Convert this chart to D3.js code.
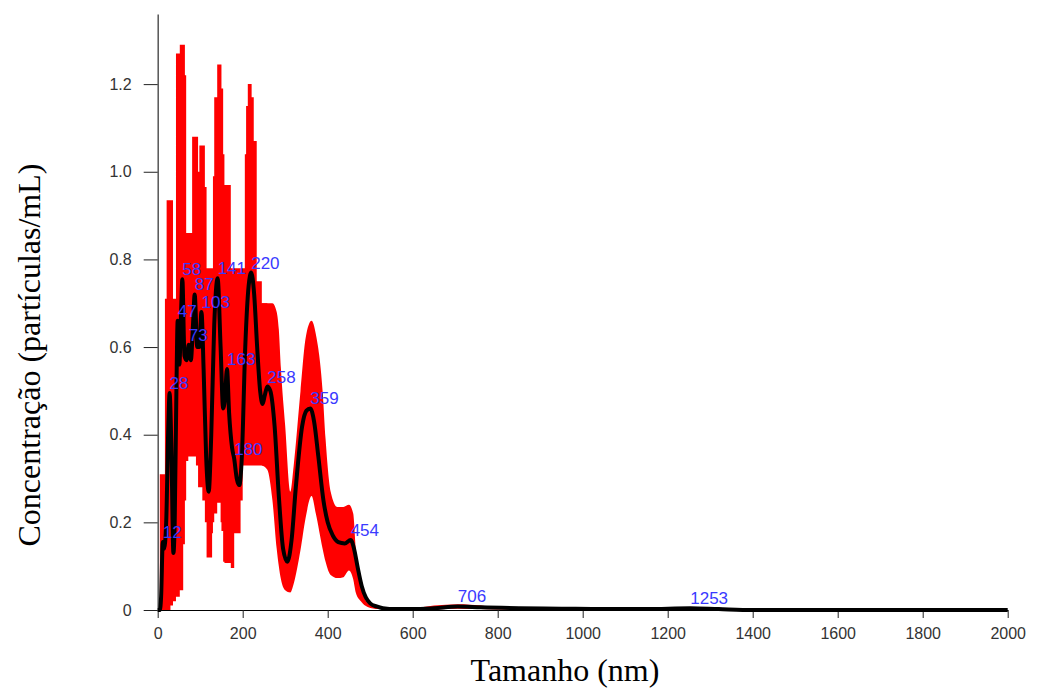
<!DOCTYPE html>
<html>
<head>
<meta charset="utf-8">
<script src="https://cdn.jsdelivr.net/npm/d3@7"></script>
<style>
  body { margin: 0; background: #fff; }
  svg { display: block; }
</style>
</head>
<body>
<div id="chart"></div>
<script>
// mean size distribution (nm -> particles/mL)
var meanSize = [0, 5, 8, 12, 15, 20, 25, 28, 32, 37, 40, 44, 47, 51, 55, 58, 63, 68, 73, 78, 83, 87, 93, 98, 103, 108, 114, 120, 126, 133, 141, 148, 154, 158, 163, 168, 175, 180, 186, 192, 198, 206, 214, 220, 227, 234, 241, 247, 252, 258, 265, 275, 285, 295, 305, 315, 325, 340, 350, 359, 368, 378, 390, 400, 412, 425, 440, 454, 462, 470, 480, 490, 500, 515, 530, 560, 600, 650, 706, 760, 850, 950, 1050, 1150, 1253, 1320, 1400, 2000];
var meanConc = [0, 0, 0.03, 0.155, 0.14, 0.2, 0.42, 0.495, 0.38, 0.13, 0.2, 0.5, 0.66, 0.56, 0.68, 0.755, 0.58, 0.57, 0.605, 0.57, 0.65, 0.72, 0.6, 0.6, 0.68, 0.55, 0.35, 0.27, 0.4, 0.65, 0.757, 0.6, 0.46, 0.48, 0.55, 0.45, 0.37, 0.345, 0.3, 0.285, 0.35, 0.6, 0.74, 0.77, 0.72, 0.6, 0.5, 0.47, 0.49, 0.51, 0.5, 0.42, 0.26, 0.14, 0.11, 0.16, 0.28, 0.42, 0.455, 0.46, 0.43, 0.35, 0.25, 0.2, 0.17, 0.155, 0.152, 0.16, 0.14, 0.1, 0.055, 0.028, 0.015, 0.008, 0.004, 0.002, 0.002, 0.004, 0.008, 0.006, 0.004, 0.003, 0.002, 0.002, 0.004, 0.002, 0, 0];

// error band (mean +/- error)
var bandSize = [0, 5, 17, 21, 30, 36, 43, 52, 60, 64, 67, 72, 81, 90, 95, 98, 105, 111, 115, 122, 128, 130, 133, 140, 148, 150, 154, 157, 172, 180, 195, 200, 205, 208, 212, 221, 226, 233, 245, 258, 270, 280, 285, 290, 300, 312, 320, 336, 348, 362, 372, 388, 395, 407, 423, 437, 450, 460, 466, 478, 494, 520, 600, 650, 706, 760, 800, 900, 1000];
var bandHigh = [0, 0.31, 0.71, 0.935, 0.935, 0.71, 1.27, 1.29, 1.29, 1.22, 0.86, 0.86, 1.08, 1.08, 1.0, 1.06, 1.06, 0.965, 0.78, 0.78, 0.78, 0.99, 1.17, 1.245, 1.245, 1.19, 1.04, 0.97, 0.78, 0.78, 0.78, 0.78, 1.04, 1.15, 1.2, 1.17, 1.07, 0.75, 0.7, 0.7, 0.7, 0.68, 0.64, 0.55, 0.42, 0.27, 0.33, 0.5, 0.62, 0.66, 0.63, 0.5, 0.39, 0.27, 0.235, 0.235, 0.24, 0.22, 0.14, 0.06, 0.016, 0.006, 0.004, 0.01, 0.013, 0.01, 0.006, 0.004, 0.003];
var bandLow = [0, 0, 0, 0, 0.01, 0.02, 0.03, 0.045, 0.15, 0.25, 0.34, 0.35, 0.35, 0.33, 0.28, 0.28, 0.25, 0.2, 0.12, 0.12, 0.175, 0.2, 0.22, 0.245, 0.2, 0.18, 0.11, 0.107, 0.096, 0.175, 0.25, 0.33, 0.33, 0.33, 0.33, 0.33, 0.33, 0.33, 0.33, 0.32, 0.25, 0.14, 0.1, 0.07, 0.045, 0.04, 0.06, 0.137, 0.21, 0.26, 0.22, 0.14, 0.11, 0.08, 0.073, 0.075, 0.09, 0.07, 0.04, 0.02, 0.007, 0.002, 0, 0.001, 0.003, 0.002, 0.001, 0.001, 0.001];

var peakLabels = [12, 28, 47, 58, 73, 87, 103, 141, 163, 180, 220, 258, 359, 454, 706, 1253];
var xTicks = [0, 200, 400, 600, 800, 1000, 1200, 1400, 1600, 1800, 2000];
var yTicks = [0, 0.2, 0.4, 0.6, 0.8, 1.0, 1.2];

var W = 1038, H = 689;
var svg = d3.select("#chart").append("svg")
    .attr("width", W)
    .attr("height", H);

var x = d3.scaleLinear().domain([0, 2000]).range([157.7, 1007.7]);
var y = d3.scaleLinear().domain([0, 1.36]).range([610, 14]);

var band = bandSize.map(function(s, i) { return {s: s, hi: bandHigh[i], lo: bandLow[i]}; });
var mean = meanSize.map(function(s, i) { return {s: s, v: meanConc[i]}; });

// spiky part drawn as steps, smooth tail as a curve
var stepArea = d3.area()
    .x(function(d) { return x(d.s); })
    .y0(function(d) { return y(d.lo); })
    .y1(function(d) { return y(d.hi); })
    .curve(d3.curveStepAfter);
var smoothArea = d3.area()
    .x(function(d) { return x(d.s); })
    .y0(function(d) { return y(d.lo); })
    .y1(function(d) { return y(d.hi); })
    .curve(d3.curveMonotoneX);

svg.append("path")
    .datum(band.filter(function(d) { return d.s <= 258; }))
    .attr("d", stepArea)
    .attr("fill", "#ff0000");
svg.append("path")
    .datum(band.filter(function(d) { return d.s >= 245; }))
    .attr("d", smoothArea)
    .attr("fill", "#ff0000");

// axes
var yAxis = svg.append("g")
    .attr("transform", "translate(" + x(0) + ",0)")
    .call(d3.axisLeft(y).tickValues(yTicks).tickSize(14).tickSizeOuter(0).tickPadding(12)
      .tickFormat(function(d) { return d === 0 ? "0" : d3.format(".1f")(d); }));
yAxis.select(".domain").attr("stroke", "#555").attr("stroke-width", 1.5);

var xAxis = svg.append("g")
    .attr("transform", "translate(0," + y(0) + ")")
    .call(d3.axisBottom(x).tickValues(xTicks).tickSize(8).tickSizeOuter(0).tickPadding(10)
      .tickFormat(d3.format("d")));

svg.selectAll(".tick text")
    .attr("font-family", "Liberation Sans, Arial, sans-serif")
    .attr("font-size", 16)
    .attr("fill", "#333");
svg.selectAll(".tick line").attr("stroke", "#222");

// mean line
var line = d3.line()
    .x(function(d) { return x(d.s); })
    .y(function(d) { return y(d.v); })
    .curve(d3.curveMonotoneX);

svg.append("path")
    .datum(mean)
    .attr("d", line)
    .attr("fill", "none")
    .attr("stroke", "#000")
    .attr("stroke-width", 4)
    .attr("stroke-linejoin", "round");

// peak labels
svg.selectAll(".peak")
  .data(peakLabels)
  .enter()
  .append("text")
    .attr("class", "peak")
    .attr("x", function(d) { return x(d); })
    .attr("y", function(d) { return y(meanConc[meanSize.indexOf(d)]) - 4; })
    .attr("font-family", "Liberation Sans, Arial, sans-serif")
    .attr("font-size", 17)
    .attr("fill", "#3a3aff")
    .text(function(d) { return d; });

// titles
svg.append("text")
    .attr("x", 565)
    .attr("y", 681)
    .attr("text-anchor", "middle")
    .attr("font-family", "Liberation Serif, Times New Roman, serif")
    .attr("font-size", 32)
    .text("Tamanho (nm)");

svg.append("text")
    .attr("transform", "translate(40,355) rotate(-90)")
    .attr("text-anchor", "middle")
    .attr("font-family", "Liberation Serif, Times New Roman, serif")
    .attr("font-size", 32)
    .text("Concentração (partículas/mL)");
</script>
</body>
</html>
